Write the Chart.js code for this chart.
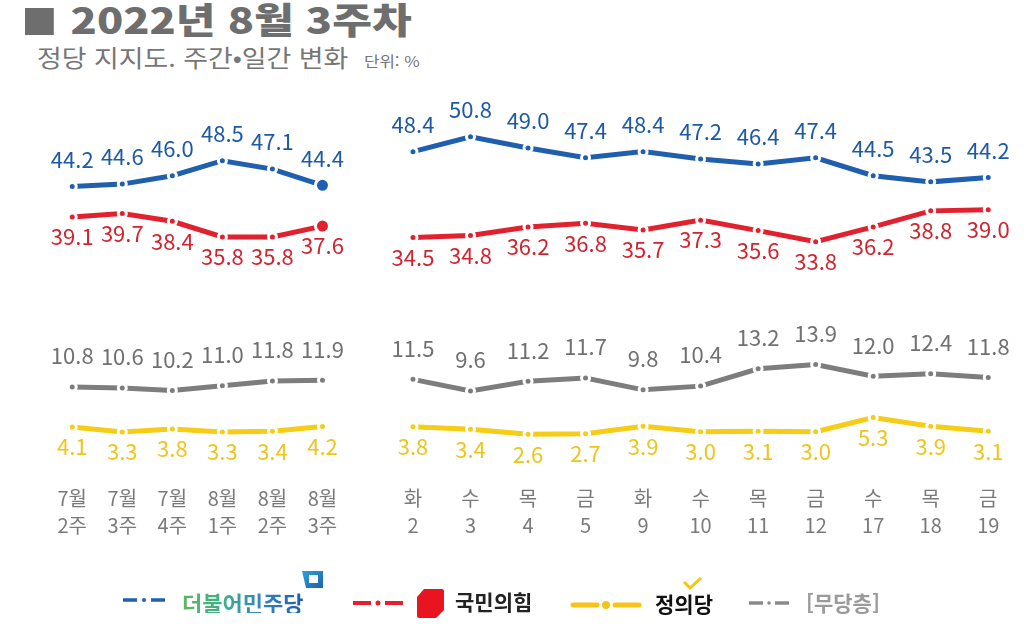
<!DOCTYPE html>
<html lang="ko">
<head>
<meta charset="utf-8">
<script src="https://cdn.jsdelivr.net/npm/chart.js@4.4.1/dist/chart.umd.min.js"></script>
<style>
  html, body { margin:0; padding:0; background:#fff; }
  body { width:1024px; height:632px; position:relative; overflow:hidden; font-family:"Noto Sans CJK KR","Noto Sans",sans-serif; }
  #title { position:absolute; left:25px; top:-8px; font-size:36px; font-weight:900; color:#6e6e6e; white-space:nowrap; transform:scaleX(1.2); transform-origin:left top; }
  #title .sq { display:inline-block; width:24px; height:27px; background:#6e6e6e; margin-right:14px; vertical-align:-1px; }
  #subtitle { position:absolute; left:37px; top:39px; font-size:24px; color:#767676; white-space:nowrap; transform:scaleX(1.12); transform-origin:left top; }
  #subtitle small { font-size:15px; margin-left:14px; }
  .cv { position:absolute; top:0; height:632px; }
  #leftWrap { left:0; width:360px; }
  #rightWrap { left:360px; width:664px; }
  .leg { position:absolute; white-space:nowrap; font-weight:700; font-size:21px; line-height:1; }
</style>
</head>
<body>
<div id="title"><span class="sq"></span>2022년 8월 3주차</div>
<div id="subtitle">정당 지지도. 주간•일간 변화<small>단위: %</small></div>

<div class="cv" id="leftWrap"><canvas id="leftChart"></canvas></div>
<div class="cv" id="rightWrap"><canvas id="rightChart"></canvas></div>

<!-- legend -->
<svg style="position:absolute;left:120px;top:590px" width="50" height="20"><line x1="3" y1="10" x2="17" y2="10" stroke="#1f5fae" stroke-width="3.5"/><circle cx="24" cy="10" r="2" fill="#1f5fae"/><line x1="31" y1="10" x2="45" y2="10" stroke="#1f5fae" stroke-width="3.5"/></svg>
<div class="leg" style="left:182px;top:591px;font-size:22px;background:linear-gradient(90deg,#5cb85c 0%,#3fae8e 35%,#2f7fc7 70%,#1f5fae 100%);-webkit-background-clip:text;background-clip:text;color:transparent;">더불어민주당</div>
<svg style="position:absolute;left:299px;top:569px" width="26" height="22"><defs><linearGradient id="g1" x1="0" y1="0" x2="1" y2="1"><stop offset="0" stop-color="#2aa6d8"/><stop offset="1" stop-color="#1f5fae"/></linearGradient></defs><path d="M3 2 L24 2 L24 19 L7 19 Z" fill="url(#g1)"/><rect x="10" y="6" width="9" height="8" fill="#fff"/></svg>

<svg style="position:absolute;left:350px;top:593px" width="56" height="20"><line x1="3" y1="10" x2="21" y2="10" stroke="#e1212d" stroke-width="4"/><circle cx="28" cy="10" r="2.5" fill="#e1212d"/><line x1="35" y1="10" x2="53" y2="10" stroke="#e1212d" stroke-width="4"/></svg>
<svg style="position:absolute;left:416px;top:588px" width="30" height="32"><path d="M8 1 L26 1 Q28 1 28 3 L28 22 L20 30 L3 30 Q1 30 1 28 L1 9 Z" fill="#e8141f"/></svg>
<div class="leg" style="left:455px;top:591px;color:#222;">국민의힘</div>

<svg style="position:absolute;left:570px;top:595px" width="72" height="20"><line x1="3" y1="10" x2="27" y2="10" stroke="#f5c414" stroke-width="5" stroke-linecap="round"/><circle cx="36" cy="10" r="4" fill="#f5c414"/><line x1="45" y1="10" x2="69" y2="10" stroke="#f5c414" stroke-width="5" stroke-linecap="round"/></svg>
<div class="leg" style="left:655px;top:593px;color:#111;">정의당</div>
<svg style="position:absolute;left:681px;top:576px" width="24" height="16"><path d="M3 6 L9 12 L20 2" fill="none" stroke="#f5c414" stroke-width="3"/></svg>

<svg style="position:absolute;left:746px;top:593px" width="46" height="20"><line x1="3" y1="10" x2="17" y2="10" stroke="#8a8a8a" stroke-width="3.5"/><circle cx="23" cy="10" r="1.8" fill="#8a8a8a"/><line x1="29" y1="10" x2="43" y2="10" stroke="#8a8a8a" stroke-width="3.5"/></svg>
<div class="leg" style="left:806px;top:592px;color:#9a9a9a;">[무당층]</div>

<script>
// ---- data ----
const weekMonths = ['7월','7월','7월','8월','8월','8월'];
const weekNums   = ['2주','3주','4주','1주','2주','3주'];
const dayNames   = ['화','수','목','금','화','수','목','금','수','목','금'];
const dayNums    = ['2','3','4','5','9','10','11','12','17','18','19'];

const weeklyDem     = [44.2, 44.6, 46.0, 48.5, 47.1, 44.4];
const weeklyPPP     = [39.1, 39.7, 38.4, 35.8, 35.8, 37.6];
const weeklyNone    = [10.8, 10.6, 10.2, 11.0, 11.8, 11.9];
const weeklyJustice = [4.1, 3.3, 3.8, 3.3, 3.4, 4.2];

const dailyDem     = [48.4, 50.8, 49.0, 47.4, 48.4, 47.2, 46.4, 47.4, 44.5, 43.5, 44.2];
const dailyPPP     = [34.5, 34.8, 36.2, 36.8, 35.7, 37.3, 35.6, 33.8, 36.2, 38.8, 39.0];
const dailyNone    = [11.5, 9.6, 11.2, 11.7, 9.8, 10.4, 13.2, 13.9, 12.0, 12.4, 11.8];
const dailyJustice = [3.8, 3.4, 2.6, 2.7, 3.9, 3.0, 3.1, 3.0, 5.3, 3.9, 3.1];

// ---- styles ----
const series = [
  { key:'dem',  line:'#1f5fae', text:'#1d5aa5', offset:-27 },
  { key:'ppp',  line:'#e1212d', text:'#d0242f', offset:20 },
  { key:'none', line:'#7d7d7d', text:'#707070', offset:-31 },
  { key:'jus',  line:'#f5cc16', text:'#eec51a', offset:20 }
];

function makeDatasets(arrs, bigLast) {
  return arrs.map((data, i) => ({
    data,
    borderColor: series[i].line,
    backgroundColor: series[i].line,
    borderWidth: 5,
    pointBackgroundColor: series[i].line,
    pointBorderColor: '#fff',
    pointBorderWidth: 3,
    pointRadius: (ctx) => (bigLast && i < 2 && ctx.dataIndex === data.length - 1) ? 7 : 4,
    pointHoverRadius: 4,
    tension: 0,
    labelColor: series[i].text,
    labelOffset: series[i].offset
  }));
}

const labelPlugin = {
  id: 'valueLabels',
  afterDatasetsDraw(chart, args, opts) {
    const ctx = chart.ctx;
    ctx.save();
    ctx.font = '22px "Noto Sans CJK KR","Noto Sans",sans-serif';
    ctx.textAlign = 'center';
    ctx.textBaseline = 'middle';
    chart.data.datasets.forEach((ds, di) => {
      const meta = chart.getDatasetMeta(di);
      meta.data.forEach((pt, i) => {
        ctx.fillStyle = ds.labelColor;
        ctx.fillText(ds.data[i].toFixed(1), pt.x, pt.y + ds.labelOffset);
      });
    });
    // x labels (two lines) from the category scale
    const xs = chart.scales.x;
    ctx.font = '20px "Noto Sans CJK KR","Noto Sans",sans-serif';
    ctx.fillStyle = '#7a7a7a';
    opts.top.forEach((t, i) => {
      const x = xs.getPixelForValue(i);
      ctx.fillText(t, x, 498);
      ctx.fillText(opts.bottom[i], x, 525);
    });
    ctx.restore();
  }
};

function baseOptions(pad, top, bottom) {
  return {
    responsive: false,
    animation: false,
    devicePixelRatio: 1,
    layout: { padding: pad },
    plugins: { legend: { display:false }, tooltip: { enabled:false }, valueLabels: { top, bottom } },
    scales: {
      x: { display:false, offset:true },
      y: { display:false, min:0, max:55 }
    }
  };
}

function setupCanvas(id, w) {
  const c = document.getElementById(id);
  c.width = w; c.height = 632;
  c.style.width = w + 'px'; c.style.height = '632px';
  return c;
}

new Chart(setupCanvas('leftChart', 360), {
  type: 'line',
  data: { labels: weekMonths.map((m, i) => m + ' ' + weekNums[i]),
          datasets: makeDatasets([weeklyDem, weeklyPPP, weeklyNone, weeklyJustice], true) },
  options: baseOptions({ left:47.2, right:12.5, top:121.7, bottom:180.3 }, weekMonths, weekNums),
  plugins: [labelPlugin]
});

new Chart(setupCanvas('rightChart', 664), {
  type: 'line',
  data: { labels: dayNames.map((d, i) => d + ' ' + dayNums[i]),
          datasets: makeDatasets([dailyDem, dailyPPP, dailyNone, dailyJustice], false) },
  options: baseOptions({ left:24.2, right:0, top:110.9, bottom:181.7 }, dayNames, dayNums),
  plugins: [labelPlugin]
});
</script>
</body>
</html>
